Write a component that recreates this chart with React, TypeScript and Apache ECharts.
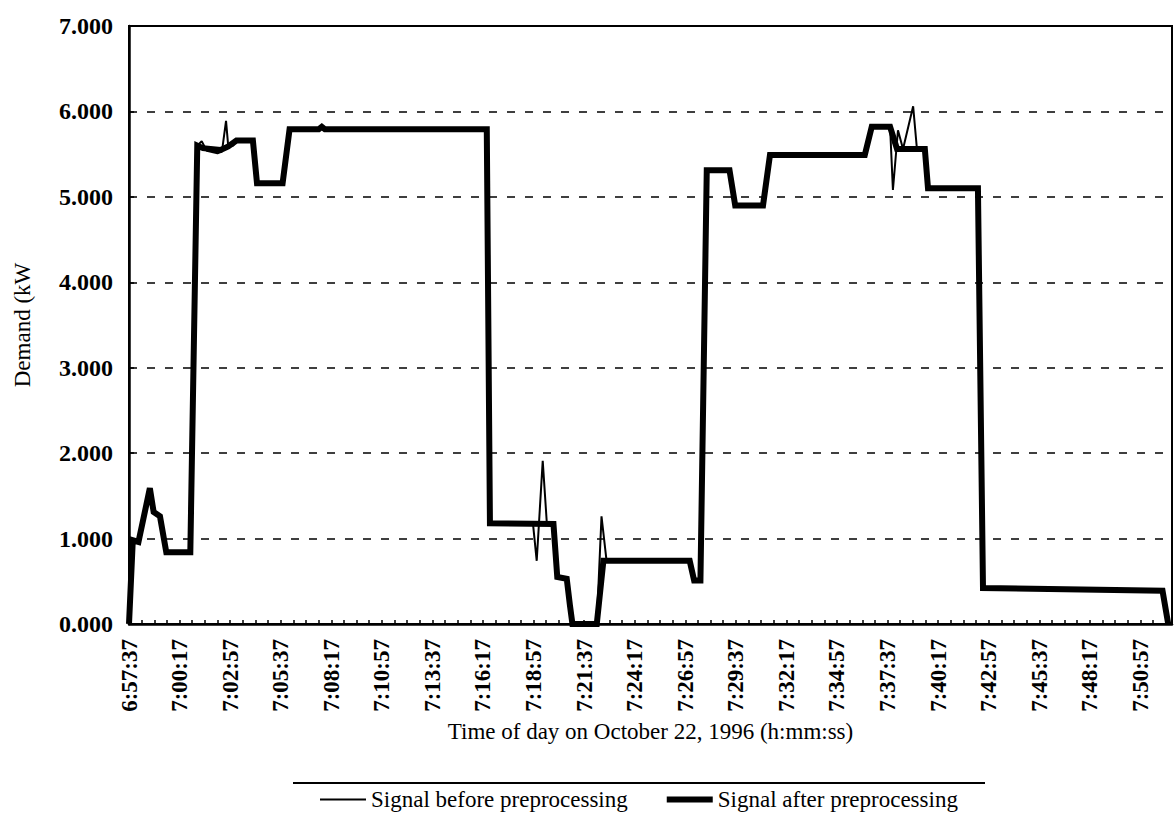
import { useEffect, useRef } from "react";
import * as echarts from "echarts";

// Start of the record: 6:57:37 on October 22, 1996
const START_TIME = "6:57:37";
const X_MAX = 3300; // seconds after start shown on the axis
const X_STEP = 160; // label step (2 min 40 s)

// Signal after preprocessing: seconds after start, demand (kW)
const afterT = [0, 12, 30, 66, 78, 98, 118, 194, 216, 234, 290, 314, 340, 392, 405, 486, 508, 600, 610, 620, 1132, 1142, 1343, 1355, 1385, 1395, 1403, 1480, 1501, 1774, 1788, 1808, 1828, 1900, 1918, 2006, 2028, 2328, 2350, 2408, 2430, 2518, 2528, 2686, 2702, 3270, 3288];
const afterV = [0, 0.98, 0.96, 1.59, 1.31, 1.26, 0.84, 0.84, 5.6, 5.57, 5.55, 5.59, 5.66, 5.66, 5.16, 5.16, 5.79, 5.79, 5.82, 5.79, 5.79, 1.18, 1.17, 0.55, 0.53, 0.22, 0, 0, 0.74, 0.74, 0.51, 0.51, 5.31, 5.31, 4.9, 4.9, 5.49, 5.49, 5.82, 5.82, 5.56, 5.56, 5.1, 5.1, 0.42, 0.39, 0];

// Signal before preprocessing: seconds after start, demand (kW)
const beforeT = [0, 12, 30, 66, 78, 98, 118, 194, 216, 230, 246, 280, 294, 307, 314, 330, 340, 392, 405, 486, 508, 600, 610, 620, 1132, 1142, 1278, 1290, 1309, 1322, 1343, 1355, 1385, 1395, 1403, 1480, 1495, 1511, 1774, 1788, 1808, 1828, 1900, 1918, 2006, 2028, 2328, 2350, 2408, 2417, 2433, 2449, 2481, 2493, 2518, 2528, 2686, 2702, 3270, 3288];
const beforeV = [0, 0.98, 0.96, 1.59, 1.31, 1.26, 0.84, 0.84, 5.6, 5.65, 5.54, 5.51, 5.53, 5.89, 5.59, 5.6, 5.66, 5.66, 5.16, 5.16, 5.79, 5.79, 5.82, 5.79, 5.79, 1.18, 1.18, 0.74, 1.91, 1.18, 1.17, 0.55, 0.53, 0.22, 0, 0, 1.26, 0.74, 0.74, 0.51, 0.51, 5.31, 5.31, 4.9, 4.9, 5.49, 5.49, 5.82, 5.82, 5.08, 5.78, 5.56, 6.06, 5.56, 5.56, 5.1, 5.1, 0.42, 0.39, 0];

const SERIES_BEFORE = "Signal before preprocessing";
const SERIES_AFTER = "Signal after preprocessing";
const X_TITLE = "Time of day on October 22, 1996 (h:mm:ss)";
const Y_TITLE = "Demand (kW";

const FONT = "'Liberation Serif', 'Times New Roman', serif";
const THICK = 6;
const THIN = 2;

function parseTime(s: string): number {
  const [h, m, sec] = s.split(":").map(Number);
  return h * 3600 + m * 60 + sec;
}
function pad(n: number): string {
  return n < 10 ? "0" + n : String(n);
}
function fmtTime(total: number): string {
  const h = Math.floor(total / 3600);
  const m = Math.floor((total % 3600) / 60);
  const s = Math.round(total % 60);
  return `${h}:${pad(m)}:${pad(s)}`;
}

export default function App() {
  const ref = useRef<HTMLDivElement>(null);
  useEffect(() => {
    if (!ref.current) return;
    const chart = echarts.init(ref.current, undefined, { renderer: "svg" });
    const start = parseTime(START_TIME);
    const option: any = {
      animation: false,
      backgroundColor: "#ffffff",
      textStyle: { fontFamily: FONT, color: "#000" },
      grid: {
        left: 129,
        right: 3,
        top: 26,
        bottom: 191,
        show: true,
        borderColor: "#000",
        borderWidth: 2,
        backgroundColor: "transparent",
      },
      legend: {
        data: [
          { name: SERIES_BEFORE, lineStyle: { width: THIN, color: "#000" } },
          { name: SERIES_AFTER, lineStyle: { width: THICK, color: "#000" } },
        ],
        left: 314,
        top: 783,
        itemWidth: 46,
        itemHeight: 14,
        itemGap: 36,
        itemStyle: { opacity: 0 },
        textStyle: { fontFamily: FONT, fontSize: 23, color: "#000" },
      },
      xAxis: {
        type: "value",
        min: 0,
        max: X_MAX,
        interval: X_STEP,
        name: X_TITLE,
        nameLocation: "middle",
        nameGap: 95,
        nameTextStyle: { fontFamily: FONT, fontSize: 23, color: "#000" },
        axisLine: { show: true, onZero: false, lineStyle: { color: "#000", width: 2.5 } },
        axisTick: { show: true, inside: true, length: 4, lineStyle: { color: "#000", width: 1.5 } },
        minorTick: { show: true, splitNumber: 4, length: 4, lineStyle: { color: "#000", width: 1.5 } },
        splitLine: { show: false },
        axisLabel: {
          rotate: 90,
          fontFamily: FONT,
          fontSize: 23,
          fontWeight: "bold",
          color: "#000",
          margin: 15,
          showMaxLabel: false,
          padding: [0, 0, 10, 0],
          formatter: (v: number) => fmtTime(start + v),
        },
      },
      yAxis: {
        type: "value",
        min: 0,
        max: 7,
        interval: 1,
        name: Y_TITLE,
        nameLocation: "middle",
        nameRotate: 90,
        nameGap: 95,
        nameTextStyle: { fontFamily: FONT, fontSize: 23, color: "#000" },
        axisLine: { show: true, lineStyle: { color: "#000", width: 2.5 } },
        axisTick: { show: true, inside: true, length: 5, lineStyle: { color: "#000", width: 1.5 } },
        splitLine: { show: true, lineStyle: { color: "#000", width: 1.7, type: [8, 10] } },
        axisLabel: {
          fontFamily: FONT,
          fontSize: 24,
          fontWeight: "bold",
          color: "#000",
          margin: 16,
          padding: [0, 0, 10, 0],
          formatter: (v: number) => v.toFixed(3),
        },
      },
      graphic: [
        {
          type: "line",
          shape: { x1: 293, y1: 783, x2: 985, y2: 783 },
          style: { stroke: "#000", lineWidth: 2 },
          silent: true,
        },
      ],
      series: [
        {
          name: SERIES_AFTER,
          type: "line",
          symbol: "none",
          data: afterT.map((t, i) => [t, afterV[i]]),
          lineStyle: { color: "#000", width: THICK, join: "miter" },
          itemStyle: { color: "#000" },
          z: 2,
        },
        {
          name: SERIES_BEFORE,
          type: "line",
          symbol: "none",
          data: beforeT.map((t, i) => [t, beforeV[i]]),
          lineStyle: { color: "#000", width: THIN },
          itemStyle: { color: "#000" },
          z: 3,
        },
      ],
    };
    chart.setOption(option);
    return () => chart.dispose();
  }, []);
  return (
    <div
      ref={ref}
      style={{ position: "absolute", left: 0, top: 0, width: 1175, height: 815, background: "#fff" }}
    />
  );
}
